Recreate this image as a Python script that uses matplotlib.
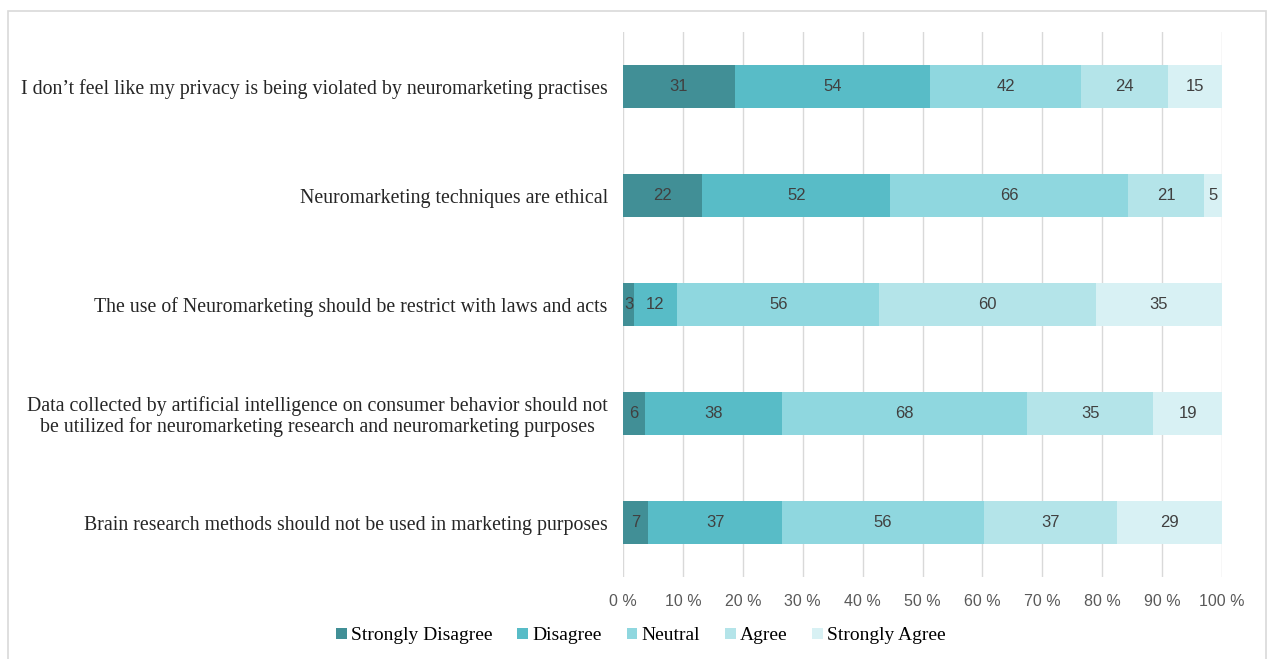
import numpy as np
import matplotlib.pyplot as plt
from matplotlib.patches import Rectangle

statements = [
    "I don\u2019t feel like my privacy is being violated by neuromarketing practises",
    "Neuromarketing techniques are ethical",
    "The use of Neuromarketing should be restrict with laws and acts",
    "Data collected by artificial intelligence on consumer behavior should not\nbe utilized for neuromarketing research and neuromarketing purposes",
    "Brain research methods should not be used in marketing purposes",
]
levels = ["Strongly Disagree", "Disagree", "Neutral", "Agree", "Strongly Agree"]
strongly_disagree = [31, 22, 3, 6, 7]
disagree = [54, 52, 12, 38, 37]
neutral = [42, 66, 56, 68, 56]
agree = [24, 21, 60, 35, 37]
strongly_agree = [15, 5, 35, 19, 29]
ticks = [0, 10, 20, 30, 40, 50, 60, 70, 80, 90, 100]

colors = ["#418f96", "#58bcc7", "#8fd7df", "#b4e4e9", "#d8f1f4"]

counts = np.array([strongly_disagree, disagree, neutral, agree, strongly_agree], dtype=float)
shares = counts / counts.sum(axis=0) * 100

fig = plt.figure(figsize=(12.69, 6.59), dpi=100)
fig.patches.append(Rectangle((8 / 1269, -0.05), 1258 / 1269, 1 - 11 / 659 + 0.05,
                             transform=fig.transFigure, fill=False,
                             edgecolor="#d9d9d9", linewidth=1.2))
ax = fig.add_axes([0.491, 0.1244, 0.472, 0.827])

y = np.arange(len(statements))
left = np.zeros(len(statements))
for k, name in enumerate(levels):
    ax.barh(y, shares[k], left=left, height=0.39, color=colors[k], label=name, zorder=2)
    for i in range(len(statements)):
        ax.text(left[i] + shares[k][i] / 2, y[i], f"{int(counts[k][i])}",
                ha="center", va="center", fontsize=12, color="#404040",
                family="Liberation Sans", zorder=3)
    left += shares[k]

ax.set_xlim(0, 100)
ax.set_ylim(len(statements) - 0.5, -0.5)
ax.set_xticks(ticks)
ax.set_xticklabels([f"{t} %" for t in ticks], family="Liberation Sans",
                   fontsize=11.5, color="#595959")
ax.set_yticks(y)
ax.set_yticklabels(statements, family="Liberation Serif", fontsize=14.3,
                   color="#262626", ha="right", multialignment="center",
                   linespacing=1.1)
ax.tick_params(axis="both", length=0)
ax.tick_params(axis="x", pad=12)
ax.tick_params(axis="y", pad=11)
ax.grid(axis="x", color="#d9d9d9", linewidth=1, zorder=0)
for s in ax.spines.values():
    s.set_visible(False)

fig.legend(loc="center", bbox_to_anchor=(0.505, 1 - 636 / 659), ncol=5, frameon=False,
           prop={"family": "Liberation Serif", "size": 14},
           handlelength=0.55, handleheight=0.55, handletextpad=0.2, columnspacing=1.3)

fig.savefig("out.png", dpi=100)
